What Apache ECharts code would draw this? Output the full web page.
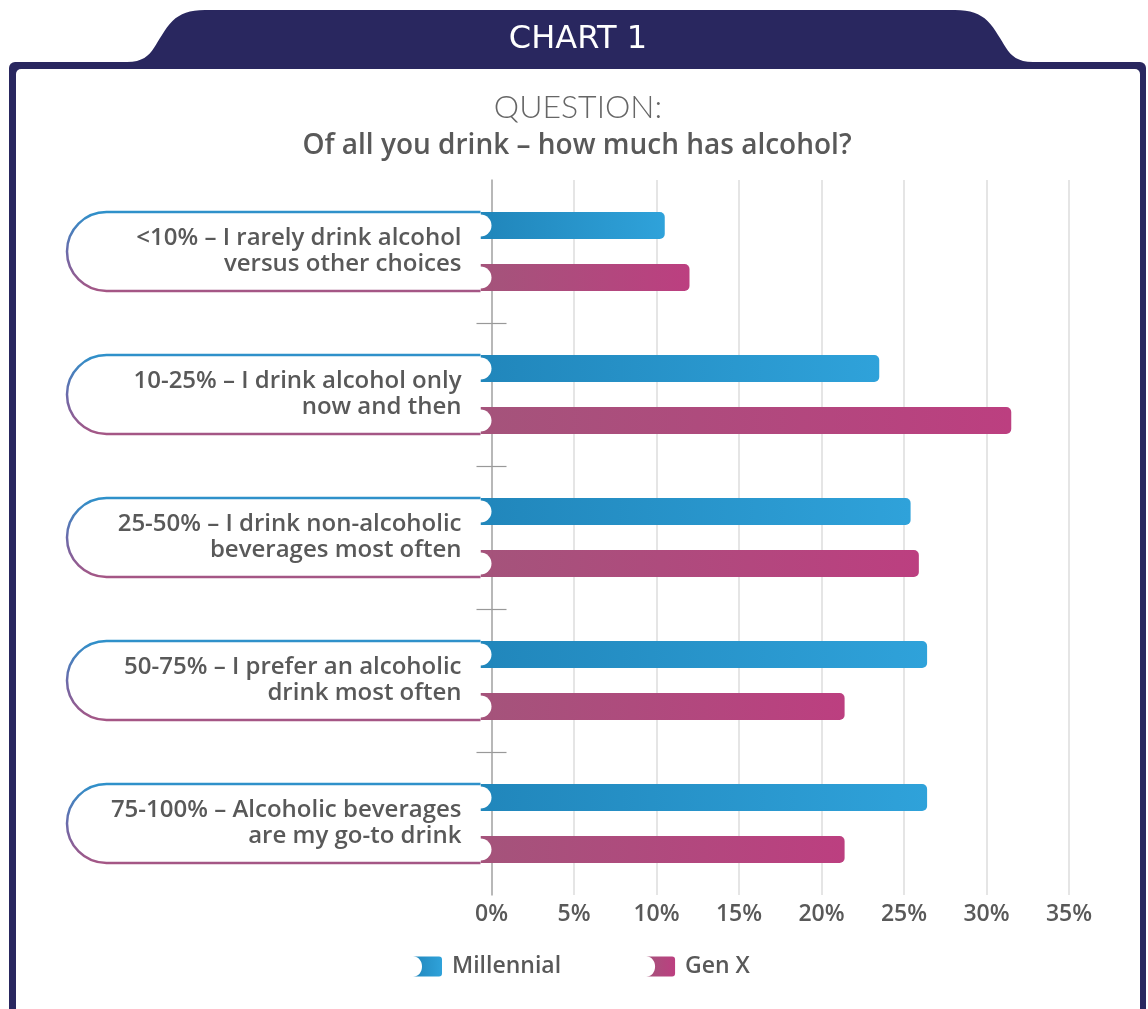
<!DOCTYPE html>
<html lang="en">
<head>
    <meta charset="UTF-8">
    <title>Chart 1</title>
    <script src="https://cdn.jsdelivr.net/npm/echarts@6/dist/echarts.min.js"></script>
    <style>
        html, body { margin: 0; padding: 0; background: #fff; }
        #chart { width: 1148px; height: 1009px; }
    </style>
</head>
<body>
<div id="chart"></div>

<script type="text/javascript">
    // data
    var categories = [
        '<10% – I rarely drink alcohol\nversus other choices',
        '10-25% – I drink alcohol only\nnow and then',
        '25-50% – I drink non-alcoholic\nbeverages most often',
        '50-75% – I prefer an alcoholic\ndrink most often',
        '75-100% – Alcoholic beverages\nare my go-to drink'
    ];
    var seriesNames = ['Millennial', 'Gen X'];
    var millennial = [10.5, 23.5, 25.4, 26.4, 26.4];
    var genX = [12.0, 31.5, 25.9, 21.4, 21.4];
    var groupBreaks = [1, 2, 3, 4];   // ticks between the groups

    var navy = '#29275f';
    var textGrey = '#595959';
    var blueLeft = '#2187bc', blueRight = '#2fa2da';
    var pinkLeft = '#a5537b', pinkRight = '#bc3f80';
    var font = '"Open Sans", "Noto Sans", sans-serif';

    var barW = 27, barGapPx = 25;
    var pillLeft = 67;

    function grad(a, b) {
        return new echarts.graphic.LinearGradient(0, 0, 1, 0, [
            { offset: 0, color: a }, { offset: 1, color: b }
        ]);
    }

    // sample a cubic bezier into points
    function bez(p0, p1, p2, p3, n) {
        var pts = [];
        for (var i = 0; i <= n; i++) {
            var t = i / n, u = 1 - t;
            pts.push([
                u * u * u * p0[0] + 3 * u * u * t * p1[0] + 3 * u * t * t * p2[0] + t * t * t * p3[0],
                u * u * u * p0[1] + 3 * u * u * t * p1[1] + 3 * u * t * t * p2[1] + t * t * t * p3[1]
            ]);
        }
        return pts;
    }
    var tabPoints = [].concat(
        bez([127, 62], [150, 62], [153, 48], [162, 35], 12),
        bez([162, 35], [172, 18], [182, 10], [205, 10], 12),
        bez([955, 10], [978, 10], [988, 18], [998, 35], 12),
        bez([998, 35], [1007, 48], [1010, 62], [1033, 62], 12),
        [[1033, 70], [127, 70]]
    );

    // label pill drawn from the category axis position
    function renderPill(params, api) {
        var idx = api.value(1);
        var p = api.coord([0, idx]);
        var ax = p[0], cy = p[1];
        var off = (barW + barGapPx) / 2;
        var top = cy - off - barW / 2;
        var bot = cy + off + barW / 2;
        var R = (bot - top) / 2;
        var xr = ax - 11;
        var outline = 'M' + xr + ',' + top + ' L' + (pillLeft + R) + ',' + top +
            ' A' + R + ',' + R + ' 0 0 0 ' + (pillLeft + R) + ',' + bot + ' L' + xr + ',' + bot;
        return {
            type: 'group',
            children: [
                { type: 'rect', shape: { x: xr, y: cy - off - barW / 2, width: ax - xr + 1, height: barW },
                  style: { fill: blueLeft } },
                { type: 'rect', shape: { x: xr, y: cy + off - barW / 2, width: ax - xr + 1, height: barW },
                  style: { fill: pinkLeft } },
                { type: 'circle', shape: { cx: xr, cy: cy - off, r: 11 }, style: { fill: '#fff' } },
                { type: 'circle', shape: { cx: xr, cy: cy + off, r: 11 }, style: { fill: '#fff' } },
                { type: 'path', shape: { pathData: outline + ' Z' }, style: { fill: '#fff' } },
                { type: 'path', shape: { pathData: outline },
                  style: {
                      fill: null, lineWidth: 2.5,
                      stroke: new echarts.graphic.LinearGradient(0, 0, 0, 1, [
                          { offset: 0, color: '#2b93cc' }, { offset: 0.5, color: '#6a6aaa' }, { offset: 1, color: '#a85583' }
                      ])
                  } },
                { type: 'text',
                  style: {
                      x: ax - 30, y: cy, text: categories[idx],
                      align: 'right', verticalAlign: 'middle',
                      fontFamily: font, fontSize: 24, fontWeight: 600, lineHeight: 26,
                      fill: textGrey
                  } }
            ]
        };
    }

    var chart = echarts.init(document.getElementById('chart'));

    var tickAxis = function (inside) {
        return {
            type: 'value', min: 0, max: 5, inverse: true, position: 'left',
            axisLine: { show: false },
            axisLabel: { show: false },
            splitLine: { show: false },
            axisTick: { show: true, inside: inside, length: 15, customValues: groupBreaks,
                        lineStyle: { color: '#999', width: 1.2 } }
        };
    };

    var option = {
        animation: false,
        backgroundColor: '#fff',
        graphic: [
            { type: 'polygon', z: -5, shape: { points: tabPoints }, style: { fill: navy } },
            { type: 'rect', z: -5, shape: { x: 9, y: 62, width: 1137, height: 1000, r: 6 }, style: { fill: navy } },
            { type: 'rect', z: -4, shape: { x: 16, y: 69, width: 1124, height: 1000, r: 5 }, style: { fill: '#fff' } },
            { type: 'text', z: 10,
              style: { text: 'CHART 1', x: 578, y: 40, align: 'center', verticalAlign: 'middle',
                       fontFamily: '"DejaVu Sans", sans-serif', fontSize: 32, fill: '#fff' } },
            { type: 'text', z: 10,
              style: { text: 'QUESTION:', x: 578, y: 108, align: 'center', verticalAlign: 'middle',
                       fontFamily: 'Lato, "Open Sans", sans-serif', fontWeight: 300, fontSize: 32, fill: '#666' } },
            { type: 'text', z: 10,
              style: { text: 'Of all you drink – how much has alcohol?', x: 577, y: 146, align: 'center', verticalAlign: 'middle',
                       fontFamily: font, fontWeight: 600, fontSize: 28, fill: textGrey } }
        ],
        legend: {
            data: seriesNames,
            left: 408,
            top: 950,
            itemWidth: 29,
            itemHeight: 20,
            itemGap: 85,
            icon: 'path://M0,0 H26 Q29,0 29,3 V17 Q29,20 26,20 H0 C6,20 9,15 9,10 C9,5 6,0 0,0 Z',
            textStyle: { fontFamily: font, fontWeight: 600, fontSize: 23, color: textGrey, padding: [0, 0, 0, 5] }
        },
        grid: {
            left: 491.5,
            right: 79,
            top: 180,
            height: 715
        },
        xAxis: {
            type: 'value',
            min: 0,
            max: 35,
            interval: 5,
            axisLine: { show: false },
            axisTick: { show: false },
            axisLabel: {
                formatter: '{value}%',
                margin: 8,
                fontFamily: font, fontWeight: 600, fontSize: 23, color: textGrey
            },
            splitLine: { show: true, lineStyle: { color: '#dcdcdc', width: 1.5 } }
        },
        yAxis: [
            {
                type: 'category',
                data: categories,
                inverse: true,
                axisLine: { show: true, lineStyle: { color: '#a8a8a8', width: 1.5 } },
                axisTick: { show: false },
                axisLabel: { show: false }
            },
            tickAxis(true),
            tickAxis(false)
        ],
        series: [
            {
                name: seriesNames[0],
                type: 'bar',
                barWidth: barW,
                barGap: (barGapPx / barW * 100) + '%',
                data: millennial,
                itemStyle: { color: grad(blueLeft, blueRight), borderRadius: [0, 5, 5, 0] }
            },
            {
                name: seriesNames[1],
                type: 'bar',
                barWidth: barW,
                data: genX,
                itemStyle: { color: grad(pinkLeft, pinkRight), borderRadius: [0, 5, 5, 0] }
            },
            {
                name: 'labels',
                type: 'custom',
                z: 5,
                clip: false,
                renderItem: renderPill,
                data: categories.map(function (c, i) { return [0, i]; })
            }
        ]
    };
    chart.setOption(option);
</script>
</body>
</html>
